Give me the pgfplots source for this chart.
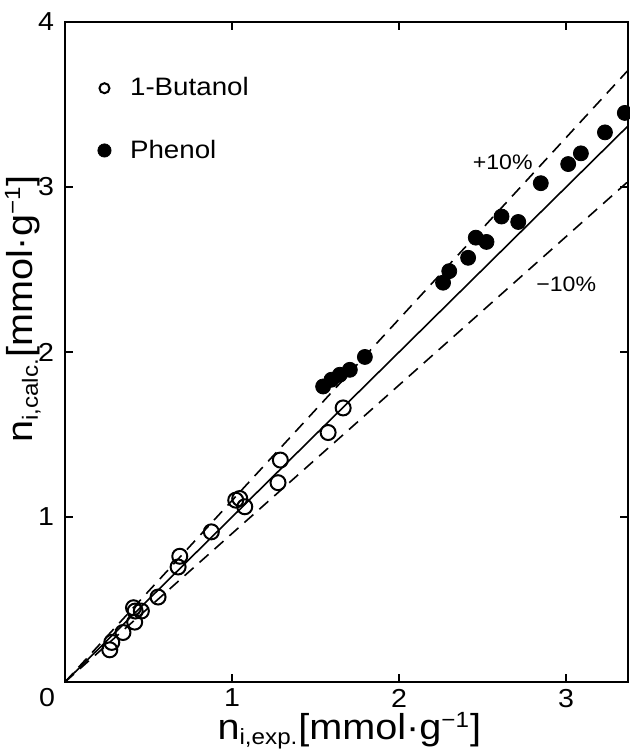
\documentclass[border=0pt]{standalone}
\usepackage{fontspec}
\setmainfont[FakeStretch=1.1]{Liberation Sans}
\usepackage{pgfplots}
\pgfplotsset{compat=1.18}
\pgfplotstableread{
x y
0.268 0.195
0.280 0.240
0.347 0.300
0.417 0.363
0.410 0.450
0.420 0.430
0.457 0.430
0.557 0.515
0.677 0.697
0.687 0.762
0.876 0.910
1.022 1.102
1.046 1.112
1.076 1.062
1.275 1.208
1.289 1.345
1.575 1.512
1.665 1.661
}\butanol
\pgfplotstableread{
x y
1.545 1.791
1.595 1.832
1.645 1.862
1.705 1.892
1.795 1.970
2.263 2.420
2.300 2.490
2.413 2.571
2.459 2.693
2.523 2.667
2.613 2.821
2.713 2.788
2.848 3.023
3.012 3.139
3.088 3.204
3.232 3.331
3.351 3.449
}\phenol
\begin{document}
\begin{tikzpicture}
\begin{axis}[
  scale only axis, width=281.5pt, height=330pt,
  xmin=0, xmax=3.37, ymin=0, ymax=4,
  xtick={1,2,3}, ytick={1,2,3,4},
  clip mode=individual,
  tick align=inside, major tick length=4pt,
  axis line style={line width=1.3pt},
  tick style={line width=1pt, black},
  tick label style={font=\fontsize{13pt}{13pt}\selectfont},
  yticklabel style={xshift=-2pt},
  /pgf/number format/assume math mode=true,
  xlabel={\fontsize{18pt}{20pt}\selectfont n\textsubscript{\fontsize{11pt}{11pt}\selectfont i,exp.}[mmol·g\textsuperscript{\fontsize{11pt}{11pt}\selectfont −1}]},
  ylabel={\fontsize{18pt}{20pt}\selectfont n\textsubscript{\fontsize{11pt}{11pt}\selectfont i,calc.}[mmol·g\textsuperscript{\fontsize{11pt}{11pt}\selectfont −1}]},
  xlabel style={at={(axis description cs:0.505,-0.074)}, anchor=center},
  ylabel style={at={(axis description cs:-0.075,0.565)}, anchor=center},
  legend image code/.code={\path[draw=none,fill=none] (0,-3pt) rectangle (0.6cm,3pt); \draw[#1] plot coordinates {(0.22cm,0cm)};},
  legend style={draw=none, fill=none, at={(axis cs:0.123,3.41)}, anchor=west,
    font=\fontsize{12.6pt}{14pt}\selectfont, row sep=16.5pt},
  legend cell align=left,
]
\addlegendimage{only marks, mark=o, mark size=2.5pt, mark options={line width=1pt}}
\addlegendentry{1-Butanol}
\addlegendimage{only marks, mark=*, mark size=3.3pt}
\addlegendentry{Phenol}
\addplot[black, line width=0.8pt, forget plot] coordinates {(0,0) (3.37,3.37)};
\addplot[black, line width=0.8pt, dash pattern=on 6pt off 4pt, forget plot] coordinates {(0,0) (3.37,3.707)};
\addplot[black, line width=0.8pt, dash pattern=on 6pt off 4pt, forget plot] coordinates {(0,0) (3.37,3.033)};
\addplot[only marks, mark=o, mark size=3.75pt, mark options={line width=1pt, fill=white}, forget plot] table {\butanol};
\addplot[only marks, mark=*, mark size=3.75pt, black, forget plot] table {\phenol};
\node[font=\fontsize{10.5pt}{12pt}\selectfont] at (axis cs:2.62,3.15) {+10\%};
\node[font=\fontsize{10.5pt}{12pt}\selectfont] at (axis cs:3.0,2.41) {−10\%};
\node[font=\fontsize{13pt}{13pt}\selectfont, xshift=-9pt, yshift=-8pt] at (axis cs:0,0) {0};
\end{axis}
\pgfresetboundingbox
\path (-32.5pt,-34pt) rectangle (282pt,341pt);
\end{tikzpicture}
\end{document}
